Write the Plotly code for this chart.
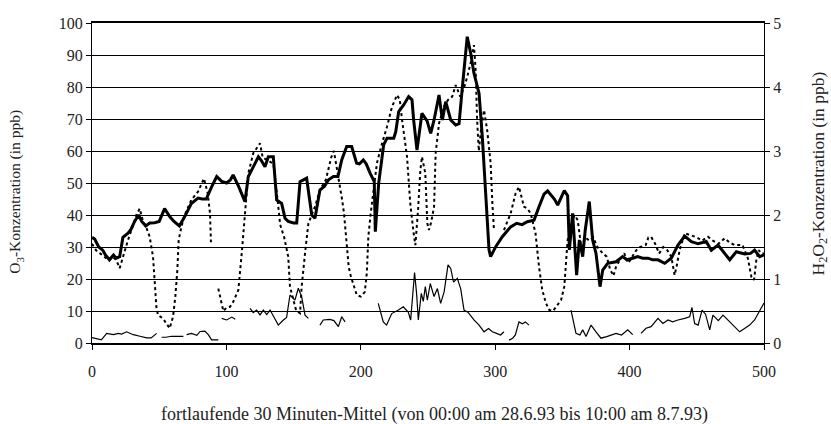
import plotly.graph_objects as go

# O3 series 1 (thick solid line), 30-minute means
o3a_x = [0, 2, 5, 8, 10, 13, 16, 18, 20.6, 23, 26.8, 29, 31.7, 34.7, 37, 40, 43, 46.6, 50, 54,
         57.8, 61, 65, 69, 73.9, 78.9, 82, 85, 89, 92.8, 96.5, 100.2, 103, 105, 109, 113.8, 116.3,
         120, 123.8, 126, 128.7, 131.2, 134.9, 137.4, 141.1, 143.6, 146, 150, 152.3, 154.8, 159.7,
         163.5, 165.9, 169.6, 173, 176, 179.6, 183, 185.8, 189.5, 193.2, 196.9, 199, 201.9, 204,
         207, 210, 210.8, 213.3, 217, 219.5, 224.5, 226, 228.2, 231.9, 235.6, 238.1, 239.3, 241.8,
         245.5, 247, 249.3, 252, 254.5, 258.2, 260.7, 263.2, 266.9, 270.6, 273.1, 275.6, 279.2,
         281.8, 284.2, 288, 290.4, 292.9, 295.4, 296.6, 300.4, 305.3, 311.5, 316, 320, 323.9,
         328.9, 332.6, 336.3, 339, 341.5, 344, 346.5, 349, 351.4, 353.9, 355.2, 357.6, 360.6,
         362.6, 365.1, 367, 370, 372.5, 375, 378, 380, 383.7, 389.9, 394.8, 398, 402.3, 406, 409.7,
         413.7, 417.2, 421.1, 426.1, 431, 436, 441, 446, 451, 457, 460.8, 465.8, 470, 474.5, 479.4,
         485.6, 490, 493, 496.8, 500]
o3a_y = [33, 32.5, 30, 29, 27.5, 26, 27.5, 26.5, 27, 33, 34.3, 35.5, 38, 40, 38, 36.6, 37.5, 37.6, 38, 42,
         39.5, 38, 36.6, 39.5, 43.6, 45.3, 45, 45, 48.8, 52, 50.5, 50, 51, 52.5, 49, 44.2, 52,
         55.1, 58.2, 57, 55.1, 58.2, 58.2, 44.7, 43.6, 39, 38, 37.5, 37.5, 50.4, 51.5,
         40, 39, 47.8, 49, 51, 52, 52, 57.2, 61.4, 61.4, 56.2, 56, 57.2, 56,
         53, 50.4, 34.8, 49.9, 61.9, 64, 64, 66, 72.3, 74.4, 77, 76, 69.7, 60.3,
         71.8, 70.7, 69.4, 65.5, 69.7, 77.5, 69.7, 75.4, 69.7, 68.1, 68.5, 80.1, 95.7,
         90.5, 84.3, 78, 64.5, 46.8, 29.1, 27, 30.1, 33.2, 36.3, 37.4, 37, 37.9,
         38.4, 42.6, 46.5, 47.5, 46.2, 45, 43.1, 45.5, 47.6, 46, 29.1, 40.5, 21.2,
         32.2, 27, 35.3, 44.2, 32.2, 28, 17.6, 22.8, 24.9, 25.4, 27, 26, 26.5, 27, 26.5,
         26.5, 26, 26, 24.9, 26.5, 30.6, 33.4, 31.7, 31, 31.7, 29, 30.6, 28.5, 26, 28.5,
         27.8, 28, 29, 27, 27.5]

# O3 series 2 (dotted line), gaps where no measurement exists
o3b_x = [0, 3, 6, 9, 12, 15, 18, 20.6, 23, 26.8, 30, 33, 35.5, 38, 40, 42.9, 45.4, 46.6, 47.9, 49.1,
         52.8, 55.3, 57.8, 60.3, 62, 63.5, 64.5, 66.5, 69, 73.9, 78.9, 83.3, 86, 87.8, 88.5, None,
         94, 96.5, 97.7, 100, 102.7, 105.1, 108.9, 111.4, 113.8, 116.3, 120, 123, 125, 127, 131, 135,
         138, 140, 143, 146, 147.3, 150, 152, 154.8, 156, 158.5, 161, 165.9, 169.6, 174, 178, 180,
         183, 186, 187.5, 189.5, 191, 192.5, 195, 197, 200, 203, 204.5, 205.6, 207.5, 210, 212,
         215.8, 219.5, 223.2, 227, 229, 230.7, 234.4, 235.6, 236.8, 239.3, 240.6, 242.6, 244.3,
         245.5, 248, 249.5, 250.7, 252.5, 254.5, 255.7, 258.2, 261.9, 265, 268, 270.6, 274, 277,
         279.2, 282, 284.2, 285.5, 286.5, 287.8, 289.5, 291.7, 294, 296.6, 297.9, 299.1, None,
         306.5, 309, 311.5, 315.2, 317.7, 321.4, 324, 326.4, 330, 332.6, 335, 337.8, 340.3, 343,
         345.2, 349, 351.4, 352.7, 353.9, 356, 359, 361.4, 364, 367, 370, 373, 376, 380, 383,
         385.5, 388, 390, 393, 396, 399, 402, 405, 408, 412, 414, 416, 419, 422, 425, 428, 431,
         433.5, 435, 437.2, 441, 444, 446, 450, 454, 458.3, 462, 466, 470.8, 474, 478.2, 484,
         488, 490.6, 492.6, 494.3, 496, 498, 500]
o3b_y = [31, 29, 28, 27, 26, 27, 26, 23.4, 27, 32.2, 36, 40, 42, 38, 36.6, 33.2, 27, 18.7, 11.3, 8.7,
         7.7, 6.1, 4.6, 8.2, 14.5, 22.8, 32.2, 36.3, 40, 44.7, 47.3, 51.4, 47, 40.6, 31.5, None,
         17, 11.9, 10, 11, 11.3, 12.9, 16.6, 28, 41.6, 53, 59.3, 61, 62.4, 58, 57, 56,
         45, 37, 33, 27, 17.6, 13, 10, 9.3, 17.6, 28, 37.4, 42.6, 47.8, 51, 58, 60,
         53, 45, 40.6, 30, 23.8, 21, 18, 15, 14.5, 16, 22, 33.2, 41, 50, 56.2,
         62.4, 67.6, 73.8, 77.5, 76, 69.7, 58.2, 52, 43.6, 34.3, 30.6, 41.6, 54,
         58.2, 53, 37.4, 35.3, 38, 42.6, 59.3, 68.6, 74, 76, 77, 80.6, 77, 80,
         83.2, 88, 93.1, 85, 70, 60, 67, 72.8, 66.6, 56.2, 43.6, 35.3, None,
         35.3, 38, 40.5, 46.8, 48.8, 42.6, 42, 40.5, 34.3, 23.8, 16.6, 12.4, 10.3, 10,
         11.3, 13.4, 17.6, 24.9, 32.2, 36, 40, 38.4, 30, 33, 32, 33, 30, 28, 27,
         23, 21, 24, 26, 28, 25, 27, 29, 30, 30.6, 33, 33.2, 31, 28, 30, 29, 27,
         21.2, 24, 29, 34.3, 34, 33.6, 33, 32, 33.2, 32, 31, 32.7, 31.5, 30.6, 30.6,
         26.5, 20.7, 19.7, 26, 29, 28, 28]

# H2O2 series (thin line, right axis), in ppb
h2o2_x = [0, 3, 7, 10.9, 15.9, 19.6, 22, 25.8, 30.7, 35.7, 40.7, 44, 48.1, None,
          51.8, 55, 59.2, 68, None, 70.4, 74, 78, 80.4, 84, 86.5, 89, 94, None,
          96.5, 100.2, 104, 106.6, None, 117.6, 120, 122.5, 125, 127.5, 130, 132.5, 136.2, 138.6,
          142.4, 144.8, 147.3, 151, 153.5, 156, 158.5, 161, None, 169.6, 172.1, 177, 180, 183.3,
          185.8, 188.3, None, 213, 216.7, 219.2, 223, 228, 231.6, 235.3, 237.1, 240, 241.5, 242.8,
          245, 246.5, 248, 249.5, 251.7, 254.5, 257, 259.4, 262, 264.9, 266.9, 269, 271.8, 274.3,
          276.8, 280, 284.2, 288, 291.7, 295, 297.9, 301, 304, 306.5, None, 310.3, 313, 315, 317.7,
          320.2, 322.5, 325.1, None, 356.4, 358.9, 360.1, 363, 365.1, 367.6, 371.3, 375, 378.7,
          383, 386, 389.9, 394, 398.6, 402.3, None, 408.5, 412.2, 416, 421.1, 424.8, 428.6, 432,
          436, 441, 444.7, 446.4, 448.4, 451, 453.9, 456.5, 459.6, 462, 466, 469.5, 473, 477,
          481.9, 485.5, 489.3, 493, 496.8, 499.3, 500]
h2o2_y = [0.085, 0.075, 0.05, 0.15, 0.13, 0.15, 0.14, 0.175, 0.13, 0.105, 0.08, 0.08, 0.15, None,
          0.09, 0.09, 0.105, 0.105, None, 0.13, 0.15, 0.12, 0.18, 0.185, 0.13, 0.05, 0.05, None,
          0.385, 0.36, 0.405, 0.37, None, 0.54, 0.475, 0.515, 0.44, 0.515, 0.445, 0.515, 0.36, 0.28,
          0.36, 0.4, 0.75, 0.67, 0.855, 0.725, 0.435, 0.385, None, 0.28, 0.36, 0.37, 0.35, 0.255,
          0.41, 0.33, None, 0.62, 0.33, 0.28, 0.46, 0.515, 0.565, 0.485, 0.36, 1.1, 0.775, 0.36,
          0.775, 0.65, 0.88, 0.67, 0.93, 0.725, 0.85, 0.62, 0.8, 1.22, 1.165, 0.95, 1.01, 0.85,
          0.515, 0.475, 0.36, 0.28, 0.175, 0.225, 0.175, 0.15, 0.125, 0.175, None, 0.045, 0.075, 0.125, 0.33,
          0.3, 0.33, 0.28, None, 0.515, 0.28, 0.15, 0.125, 0.205, 0.1, 0.28, 0.175, 0.075,
          0.1, 0.125, 0.15, 0.125, 0.205, 0.13, None, 0.15, 0.23, 0.255, 0.385, 0.305, 0.36, 0.33,
          0.36, 0.385, 0.41, 0.555, 0.305, 0.28, 0.515, 0.45, 0.205, 0.435, 0.35, 0.435, 0.36, 0.28,
          0.175, 0.225, 0.28, 0.36, 0.515, 0.595, 0.625]

x_ticks = [0, 100, 200, 300, 400, 500]
o3_ticks = [0, 10, 20, 30, 40, 50, 60, 70, 80, 90, 100]
h2o2_ticks = [0, 1, 2, 3, 4, 5]

FONT = "Liberation Serif"

fig = go.Figure()
fig.add_trace(go.Scatter(x=o3b_x, y=o3b_y, mode="lines", connectgaps=False,
                         line=dict(color="black", width=2, dash="dot"), showlegend=False))
fig.add_trace(go.Scatter(x=o3a_x, y=o3a_y, mode="lines",
                         line=dict(color="black", width=3), showlegend=False))
fig.add_trace(go.Scatter(x=h2o2_x, y=h2o2_y, mode="lines", connectgaps=False, yaxis="y2",
                         line=dict(color="black", width=1.2), showlegend=False))

tick_font = dict(family=FONT, size=16, color="#222")
left_title_font = dict(family=FONT, size=15.5, color="#222")
right_title_font = dict(family=FONT, size=17.5, color="#222")
x_title_font = dict(family=FONT, size=18, color="#222")

fig.update_layout(
    width=831, height=424,
    margin=dict(l=92, r=67, t=23, b=81),
    paper_bgcolor="white", plot_bgcolor="white",
    font=tick_font,
    xaxis=dict(range=[0, 500], tickvals=x_ticks, ticks="outside", ticklen=5,
               tickcolor="black", showline=True, linecolor="black", linewidth=1.5,
               mirror=True, showgrid=False, zeroline=False, tickfont=tick_font,
               ticklabelstandoff=8),
    yaxis=dict(range=[0, 100], tickvals=o3_ticks, ticks="outside", ticklen=5,
               tickcolor="black", showline=True, linecolor="black", linewidth=1,
               showgrid=True, gridcolor="black", gridwidth=1, zeroline=False,
               tickfont=tick_font),
    yaxis2=dict(range=[0, 5], tickvals=h2o2_ticks, overlaying="y", side="right",
                ticks="outside", ticklen=5, tickcolor="black", showline=True,
                linecolor="black", linewidth=1, showgrid=False, zeroline=False,
                tickfont=tick_font),
    annotations=[
        dict(text="O<sub>3</sub>-Konzentration (in ppb)", xref="paper", yref="paper",
             x=-0.113, y=0.473, textangle=-90, showarrow=False,
             font=left_title_font, xanchor="center", yanchor="middle"),
        dict(text="H<sub>2</sub>O<sub>2</sub>-Konzentration (in ppb)", xref="paper", yref="paper",
             x=1.082, y=0.53, textangle=-90, showarrow=False,
             font=right_title_font, xanchor="center", yanchor="middle"),
        dict(text="fortlaufende 30 Minuten-Mittel (von 00:00 am 28.6.93 bis 10:00 am 8.7.93)",
             xref="paper", yref="paper", x=0.509, y=-0.222, showarrow=False,
             font=x_title_font, xanchor="center", yanchor="middle"),
    ],
)

fig.write_html("out.html")
